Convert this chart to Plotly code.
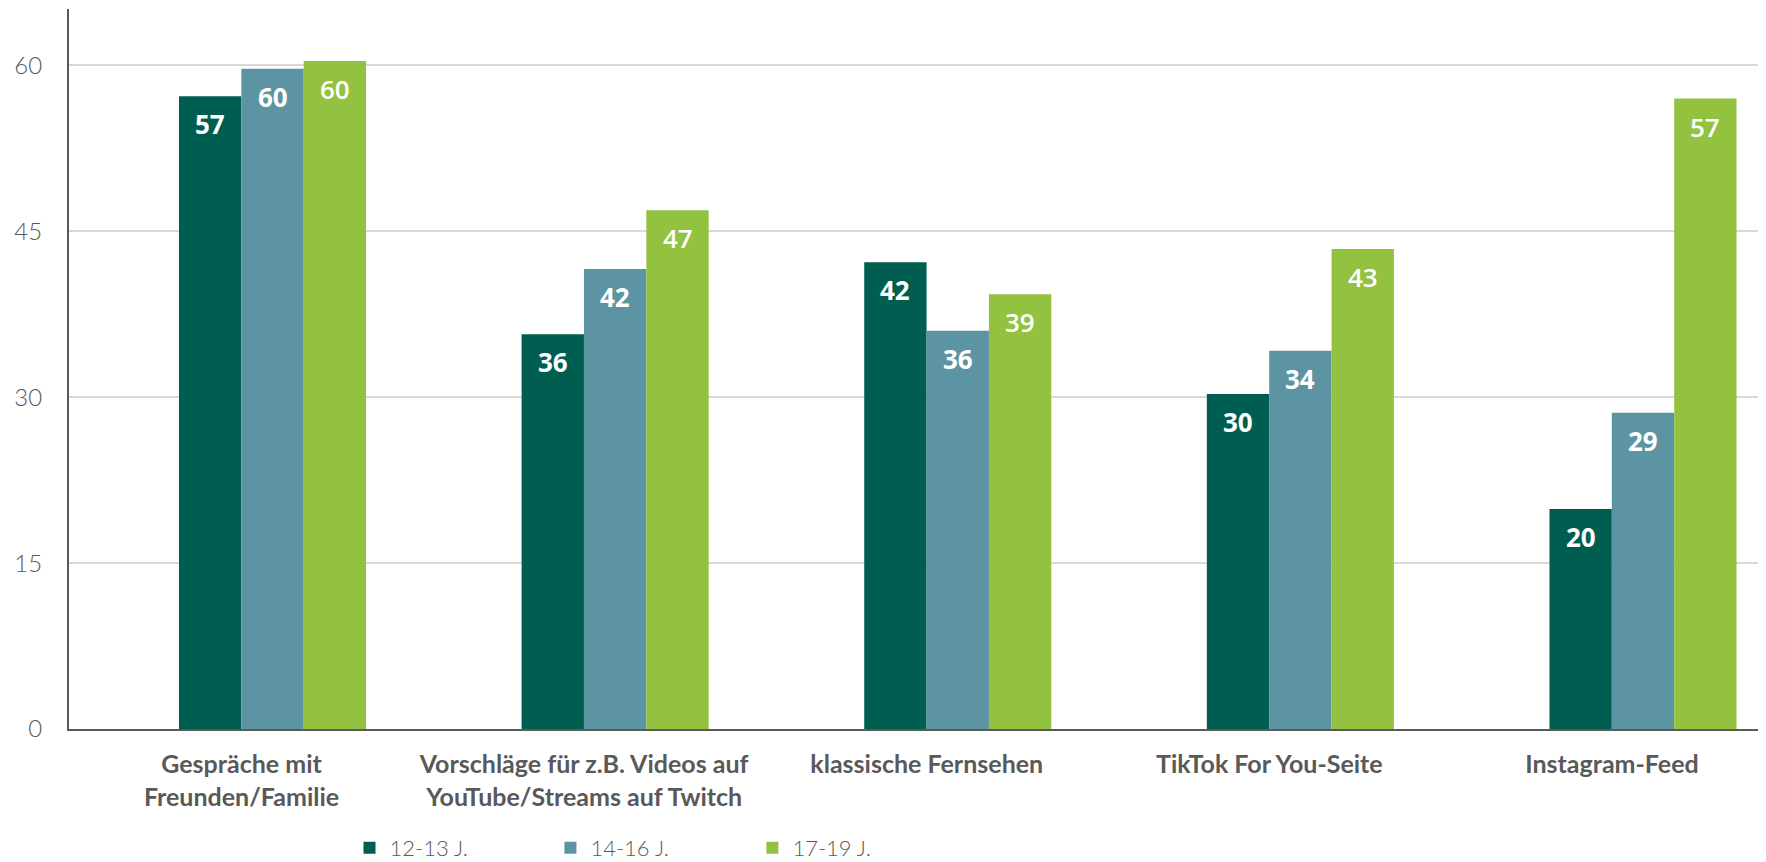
import plotly.graph_objects as go

categories = [
    "Gespräche mit<br>Freunden/Familie",
    "Vorschläge für z.B. Videos auf<br>YouTube/Streams auf Twitch",
    "klassische Fernsehen",
    "TikTok For You-Seite",
    "Instagram-Feed",
]
series_names = ["12-13 J.", "14-16 J.", "17-19 J."]
values_12_13 = [57.2, 35.7, 42.2, 30.3, 19.9]
values_14_16 = [59.7, 41.6, 36.0, 34.2, 28.6]
values_17_19 = [60.4, 46.9, 39.3, 43.4, 57.0]
colors = ["#005e50", "#5d94a4", "#93c240"]
y_ticks = [0, 15, 30, 45, 60]

all_values = [values_12_13, values_14_16, values_17_19]
legend_ids = ["legend", "legend2", "legend3"]
legend_x = [0.1653, 0.2837, 0.4027]

fig = go.Figure()
for name, vals, col, lid in zip(series_names, all_values, colors, legend_ids):
    fig.add_trace(go.Bar(
        x=categories, y=vals, name=name, legend=lid,
        marker=dict(color=col, line=dict(width=0)),
    ))

bar_px = 62.4
for i, vals in enumerate(all_values):
    for cat, v in zip(categories, vals):
        fig.add_annotation(
            x=cat, y=v, xref="x", yref="y",
            text=f"{round(v):d}", showarrow=False,
            yanchor="top", yshift=-8, xshift=(i - 1) * bar_px,
            font=dict(family="Open Sans", size=26, color="white",
                      weight=700 if i < 2 else 600),
        )

legend_style = dict(
    orientation="h", xanchor="left", y=-0.1652, yanchor="middle",
    font=dict(family="Lato", size=22, color="#595959", weight=300),
    bgcolor="rgba(0,0,0,0)", borderwidth=0,
)

fig.update_layout(
    width=1758, height=854,
    margin=dict(l=61, r=0, t=1, b=133, autoexpand=False),
    plot_bgcolor="white", paper_bgcolor="white",
    barmode="group", bargap=0.454, bargroupgap=0,
    showlegend=True,
    legend=dict(x=legend_x[0], **legend_style),
    legend2=dict(x=legend_x[1], **legend_style),
    legend3=dict(x=legend_x[2], **legend_style),
    font=dict(family="Lato", color="#595959"),
)
fig.update_xaxes(
    range=[-0.594, 4.359],
    showgrid=False, showline=True, linecolor="#595959", linewidth=2,
    ticks="", tickfont=dict(family="Lato", size=25, color="#595959", weight=700),
    ticklabelstandoff=12, ticklabelshift=-31,
)
fig.update_yaxes(
    range=[0, 65.1], tickvals=y_ticks,
    showgrid=True, gridcolor="#d9d9d9", gridwidth=2,
    showline=True, linecolor="#595959", linewidth=2,
    zeroline=False,
    ticks="", tickfont=dict(family="Lato", size=24, color="#595959", weight=300),
    ticklabelstandoff=20,
)

fig.write_html("out.html")
